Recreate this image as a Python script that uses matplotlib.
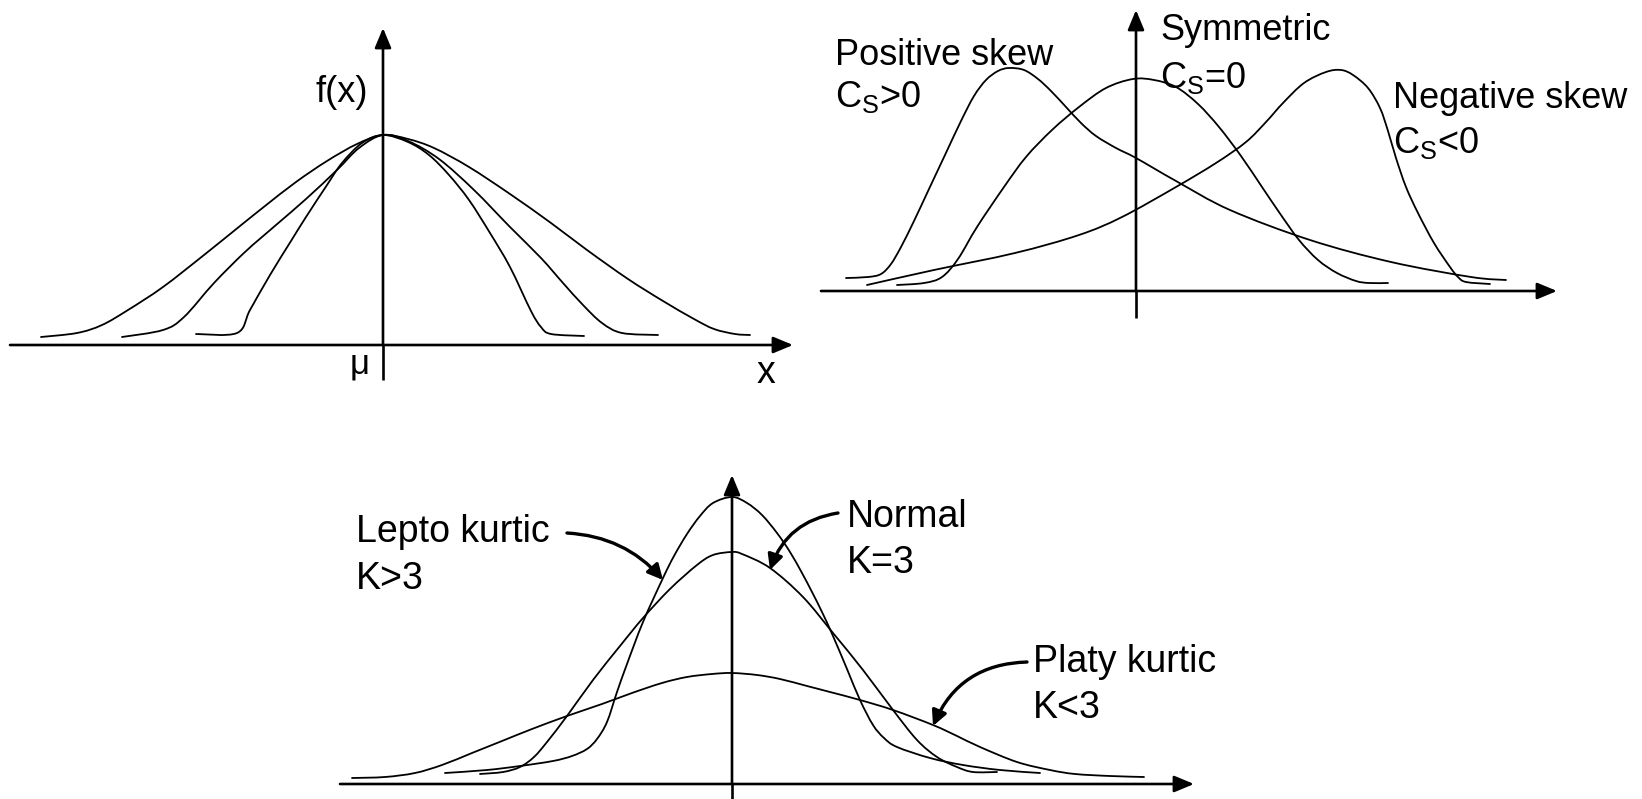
import matplotlib
matplotlib.use("Agg")
import matplotlib.pyplot as plt
from matplotlib.path import Path
from matplotlib.patches import PathPatch, FancyArrowPatch

plt.rcParams['font.family'] = ['Liberation Sans', 'DejaVu Sans']
plt.rcParams['mathtext.fontset'] = 'custom'
plt.rcParams['mathtext.rm'] = 'Liberation Sans'

# ---------------- data (units: pixels from each panel's axis origin) -------------
# Panel 1: curves sharing the same mean and peak
wide_x = [-342, -306, -281, -255, -220, -179, -143, -118, -87, -56, -26, 0,
          25, 51, 86, 127, 168, 204, 245, 280, 311, 331, 352, 367]
wide_y = [8, 12, 20, 35, 58, 90, 119, 139, 163, 184, 201, 210,
          206, 197, 178, 151, 122, 95, 66, 44, 26, 16, 11, 10]
mid_x = [-261, -220, -199, -169, -138, -107, -77, -46, -24, 0,
         25, 56, 91, 127, 158, 180, 200, 219, 239, 275]
mid_y = [8, 15, 28, 62, 93, 120, 146, 175, 197, 210,
         204, 186, 155, 118, 87, 62, 40, 22, 12, 10]
narrow_x = [-187, -146, -133, -113, -92, -77, -56, -41, -21, 0,
            25, 46, 66, 86, 107, 127, 148, 158, 168, 201]
narrow_y = [11, 12, 35, 70, 104, 128, 160, 182, 202, 210,
            203, 190, 170, 145, 112, 78, 34, 18, 11, 9]

# Panel 2: skewness
pos_x = [-290, -268, -255, -245, -235, -222, -207, -191, -175, -162, -150, -138, -127,
         -112, -98, -85, -70, -55, -40, -20, 0, 40, 94, 174, 255, 335, 370]
pos_y = [13, 14, 17, 27, 44, 70, 102, 136, 170, 195, 211, 220, 223,
         221, 212, 200, 184, 168, 155, 143, 133, 110, 81, 51, 29, 14, 11]
sym_x = [-239, -212, -194, -178, -159, -132, -110, -84, -57, -30, -3, 18, 40, 62, 83,
         105, 126, 145, 163, 182, 201, 220, 233, 252]
sym_y = [6, 8, 14, 32, 64, 104, 134, 161, 184, 203, 212, 211, 204, 187, 164,
         135, 104, 76, 51, 31, 18, 10, 8, 8]
neg_x = [-269, -202, -121, -57, -14, 40, 80, 110, 130, 147, 168, 190, 205, 217, 232, 244,
         252, 260, 270, 282, 298, 314, 322, 330, 354]
neg_y = [6, 21, 38, 56, 74, 104, 128, 149, 169, 188, 208, 219, 221, 216, 203, 183,
         160, 133, 104, 78, 48, 24, 14, 9, 7]

# Panel 3: kurtosis
lep_x = [-287, -245, -212, -179, -160, -145, -135, -125, -115, -105, -89, -69, -58, -45,
         -32, -19, 0, 15, 30, 45, 58, 70, 80, 90, 101, 115, 128, 141, 152, 165, 198, 231,
         268, 308]
lep_y = [11, 14, 18, 23, 28, 35, 45, 62, 92, 120, 162, 206, 228, 250,
         268, 281, 287, 281, 269, 251, 232, 211, 192, 172, 148, 115, 84, 59, 46, 37, 26, 19,
         14, 11]
nor_x = [-252, -229, -212, -198, -185, -165, -139, -112, -89, -62, -35, -19, 0,
         10, 38, 71, 101, 131, 161, 185, 205, 225, 241, 265]
nor_y = [10, 12, 17, 27, 42, 68, 104, 138, 166, 195, 219, 229, 232,
         230, 216, 187, 151, 114, 74, 44, 27, 17, 12, 12]
pla_x = [-380, -347, -317, -290, -260, -230, -200, -165, -130, -100, -70, -45, -20, 0,
         25, 48, 75, 98, 128, 161, 201, 225, 248, 285, 318, 343, 378, 412]
pla_y = [6, 7, 11, 19, 31, 43, 55, 68, 80, 91, 101, 107, 110, 111,
         109, 105, 98, 92, 84, 74, 59, 48, 37, 22, 14, 10, 8, 7]

# labels
top_labels = ["Positive skew", "Symmetric", "Negative skew"]
cs_labels = [r"C$_\mathregular{S}$>0", r"C$_\mathregular{S}$=0", r"C$_\mathregular{S}$<0"]
kurt_labels = ["Lepto kurtic", "Normal", "Platy kurtic"]
k_labels = ["K>3", "K=3", "K<3"]

# ---------------- drawing -------------------------------------------------------
W, H = 1642, 799
fig = plt.figure(figsize=(W / 100, H / 100), dpi=100)
fig.patch.set_facecolor('white')


def panel(box, origin):
    x0, y0, x1, y1 = box
    ax = fig.add_axes([x0 / W, 1 - y1 / H, (x1 - x0) / W, (y1 - y0) / H])
    ox, oy = origin
    ax.set_xlim(x0 - ox, x1 - ox)
    ax.set_ylim(oy - y1, oy - y0)
    ax.axis('off')
    return ax


def curve(ax, xs, ys, lw=1.3):
    pts = list(zip(xs, ys))
    n = len(pts)
    verts = [pts[0]]
    codes = [Path.MOVETO]
    for i in range(n - 1):
        p0 = pts[max(i - 1, 0)]
        p1 = pts[i]
        p2 = pts[i + 1]
        p3 = pts[min(i + 2, n - 1)]
        c1 = (p1[0] + (p2[0] - p0[0]) / 6.0, p1[1] + (p2[1] - p0[1]) / 6.0)
        c2 = (p2[0] - (p3[0] - p1[0]) / 6.0, p2[1] - (p3[1] - p1[1]) / 6.0)
        verts += [c1, c2, p2]
        codes += [Path.CURVE4] * 3
    ax.add_patch(PathPatch(Path(verts, codes), fill=False, ec='black', lw=lw,
                           capstyle='round', joinstyle='round'))


def axis_arrow(ax, start, end):
    ax.add_patch(FancyArrowPatch(start, end,
                                 arrowstyle='-|>,head_length=1.2,head_width=0.5',
                                 mutation_scale=10, lw=1.9, color='black',
                                 shrinkA=0, shrinkB=0))


def note_arrow(ax, start, end, rad):
    ax.add_patch(FancyArrowPatch(start, end,
                                 arrowstyle='-|>,head_length=0.9,head_width=0.45',
                                 connectionstyle=f'arc3,rad={rad}',
                                 mutation_scale=10, lw=2.4, color='black',
                                 shrinkA=0, shrinkB=0))


# Panel 1
ax1 = panel((0, 0, 820, 400), (383, 345))
axis_arrow(ax1, (-373, 0), (410, 0))
ax1.plot([0, 0], [-35, 0], color='black', lw=1.9, solid_capstyle='butt')
axis_arrow(ax1, (0, 0), (0, 317))
for xs, ys in [(wide_x, wide_y), (mid_x, mid_y), (narrow_x, narrow_y)]:
    curve(ax1, xs, ys)
ax1.text(-15, 243, "f(x)", ha='right', va='baseline', fontsize=26)
ax1.text(-13, -28, "\u03bc", ha='right', va='baseline', fontsize=25)
ax1.text(374, -38, "x", ha='left', va='baseline', fontsize=27)

# Panel 2
ax2 = panel((800, 0, 1642, 340), (1136, 291))
axis_arrow(ax2, (-315, 0), (421, 0))
ax2.plot([0, 0], [-27, 0], color='black', lw=1.9, solid_capstyle='butt')
axis_arrow(ax2, (0, 0), (0, 281))
for xs, ys in [(pos_x, pos_y), (sym_x, sym_y), (neg_x, neg_y)]:
    curve(ax2, xs, ys)
top_pos = [(-301, 226, 184), (24, 251, 203), (257, 183, 138)]
for (tx, ty1, ty2), t1, t2 in zip(top_pos, top_labels, cs_labels):
    ax2.text(tx, ty1, t1, ha='left', va='baseline', fontsize=26)
    ax2.text(tx, ty2, t2, ha='left', va='baseline', fontsize=26)

# Panel 3
ax3 = panel((300, 440, 1250, 799), (732, 784))
axis_arrow(ax3, (-392, 0), (462, 0))
ax3.plot([0, 0], [-15, 0], color='black', lw=1.9, solid_capstyle='butt')
axis_arrow(ax3, (0, 0), (0, 309))
for xs, ys in [(lep_x, lep_y), (nor_x, nor_y), (pla_x, pla_y)]:
    curve(ax3, xs, ys)
bot_pos = [(-376, 242, 195), (115, 257, 211), (301, 112, 66)]
for (tx, ty1, ty2), t1, t2 in zip(bot_pos, kurt_labels, k_labels):
    ax3.text(tx, ty1, t1, ha='left', va='baseline', fontsize=27)
    ax3.text(tx, ty2, t2, ha='left', va='baseline', fontsize=27)
note_arrow(ax3, (-165, 251), (-69, 204), -0.21)
note_arrow(ax3, (106, 271), (38, 214), 0.3)
note_arrow(ax3, (295, 122), (201, 58), 0.32)

fig.savefig("out.png", dpi=100, facecolor='white')
